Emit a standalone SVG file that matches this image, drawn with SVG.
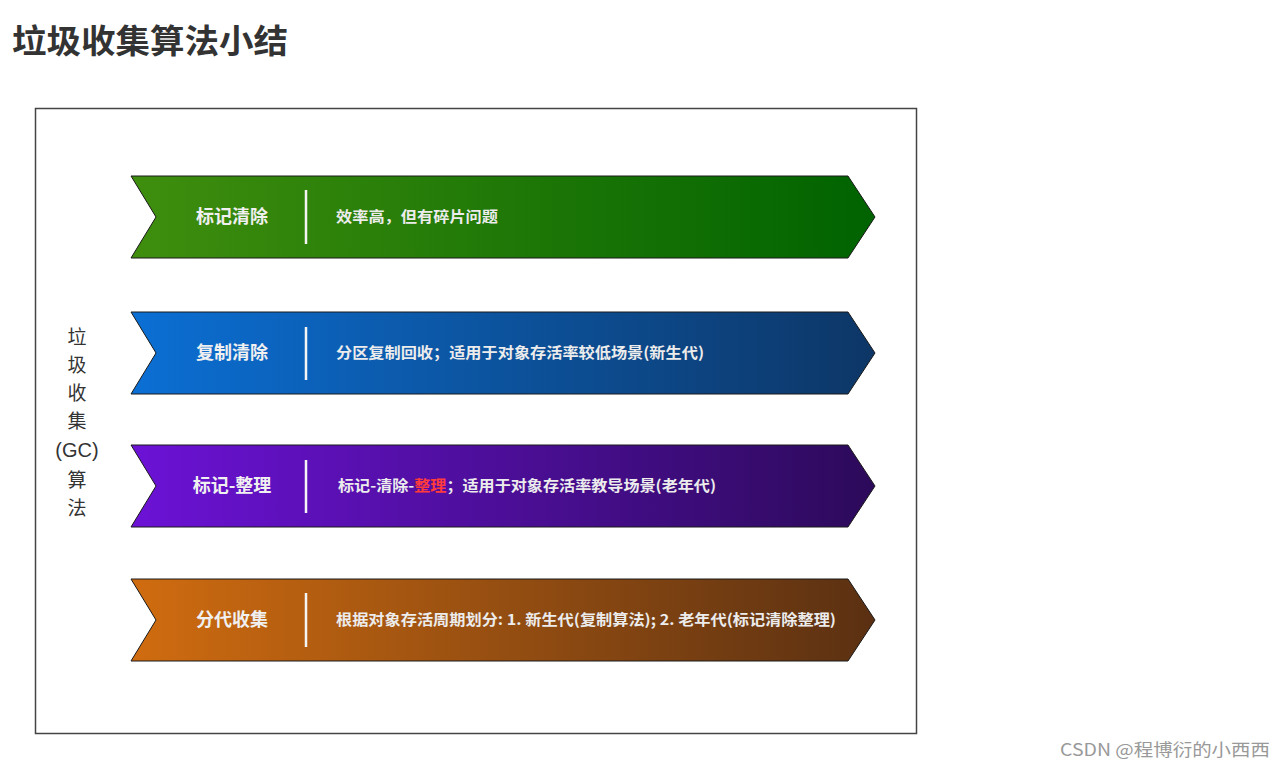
<svg xmlns="http://www.w3.org/2000/svg" width="1286" height="768" viewBox="0 0 1286 768">
<defs>
<linearGradient id="gGreen" x1="0" y1="0" x2="1" y2="0"><stop offset="0" stop-color="#3f8e0e"/><stop offset="1" stop-color="#006300"/></linearGradient>
<linearGradient id="gBlue" x1="0" y1="0" x2="1" y2="0"><stop offset="0" stop-color="#0b6fd4"/><stop offset="1" stop-color="#0d3666"/></linearGradient>
<linearGradient id="gPurple" x1="0" y1="0" x2="1" y2="0"><stop offset="0" stop-color="#6c12d6"/><stop offset="1" stop-color="#2c0a5a"/></linearGradient>
<linearGradient id="gOrange" x1="0" y1="0" x2="1" y2="0"><stop offset="0" stop-color="#d06c10"/><stop offset="1" stop-color="#5a3012"/></linearGradient>
<style>
.arrow{stroke:#1a1a1a;stroke-width:1}
.lbl{font-family:"Noto Sans CJK SC","Liberation Sans",sans-serif;font-weight:bold;font-size:18px;fill:#f0f0f0;text-anchor:middle}
.desc{font-family:"Noto Sans CJK SC","Liberation Sans",sans-serif;font-weight:bold;font-size:15px;fill:#ececec}
.sep{stroke:#f4f4f4;stroke-width:2.5}
.side{font-family:"Noto Sans CJK SC","Liberation Sans",sans-serif;font-size:19px;fill:#333;text-anchor:middle}
</style>
</defs>
<rect width="1286" height="768" fill="#ffffff"/>
<text x="12" y="53" font-family="'Noto Sans CJK SC','Liberation Sans',sans-serif" font-weight="bold" font-size="33" fill="#333333" textLength="276" lengthAdjust="spacingAndGlyphs">垃圾收集算法小结</text>
<rect id="frame" x="35.5" y="108.5" width="881" height="625" fill="#ffffff" stroke="#444" stroke-width="1.5"/>
<g id="side-label">
<text class="side"><tspan x="77" y="344">垃</tspan><tspan x="77" y="372">圾</tspan><tspan x="77" y="400">收</tspan><tspan x="77" y="428">集</tspan><tspan x="77" y="457" font-family="'Liberation Sans',sans-serif" font-size="20">(GC)</tspan><tspan x="77" y="487">算</tspan><tspan x="77" y="515">法</tspan></text>
</g>
<g id="mark-sweep">
<path class="arrow" fill="url(#gGreen)" d="M131,176 L848,176 L875,217 L848,258 L131,258 L156,217 Z"/>
<text class="lbl" x="232" y="223">标记清除</text>
<line class="sep" x1="306" y1="190" x2="306" y2="244"/>
<text class="desc" x="336" y="222" textLength="162" lengthAdjust="spacingAndGlyphs">效率高，但有碎片问题</text>
</g>
<g id="copying">
<path class="arrow" fill="url(#gBlue)" d="M131,312 L848,312 L875,353 L848,394 L131,394 L156,353 Z"/>
<text class="lbl" x="232" y="359">复制清除</text>
<line class="sep" x1="306" y1="327" x2="306" y2="380"/>
<text class="desc" x="336" y="358" textLength="368" lengthAdjust="spacingAndGlyphs">分区复制回收；适用于对象存活率较低场景(新生代)</text>
</g>
<g id="mark-compact">
<path class="arrow" fill="url(#gPurple)" d="M131,445 L848,445 L875,486 L848,527 L131,527 L156,486 Z"/>
<text class="lbl" x="232" y="492">标记-整理</text>
<line class="sep" x1="306" y1="460" x2="306" y2="513"/>
<text class="desc" x="338" y="491" textLength="378" lengthAdjust="spacingAndGlyphs">标记-清除-<tspan fill="#ff3b3b">整理</tspan>；适用于对象存活率教导场景(老年代)</text>
</g>
<g id="generational">
<path class="arrow" fill="url(#gOrange)" d="M131,579 L848,579 L875,620 L848,661 L131,661 L156,620 Z"/>
<text class="lbl" x="232" y="626">分代收集</text>
<line class="sep" x1="306" y1="593" x2="306" y2="647"/>
<text class="desc" x="336" y="625" textLength="500" lengthAdjust="spacingAndGlyphs">根据对象存活周期划分: 1. 新生代(复制算法); 2. 老年代(标记清除整理)</text>
</g>
<g id="connectors"></g>
<text x="1060" y="756" font-family="'Noto Sans CJK SC','Liberation Sans',sans-serif" font-size="17" fill="#999999" textLength="210" lengthAdjust="spacingAndGlyphs">CSDN @程博衍的小西西</text>
</svg>
